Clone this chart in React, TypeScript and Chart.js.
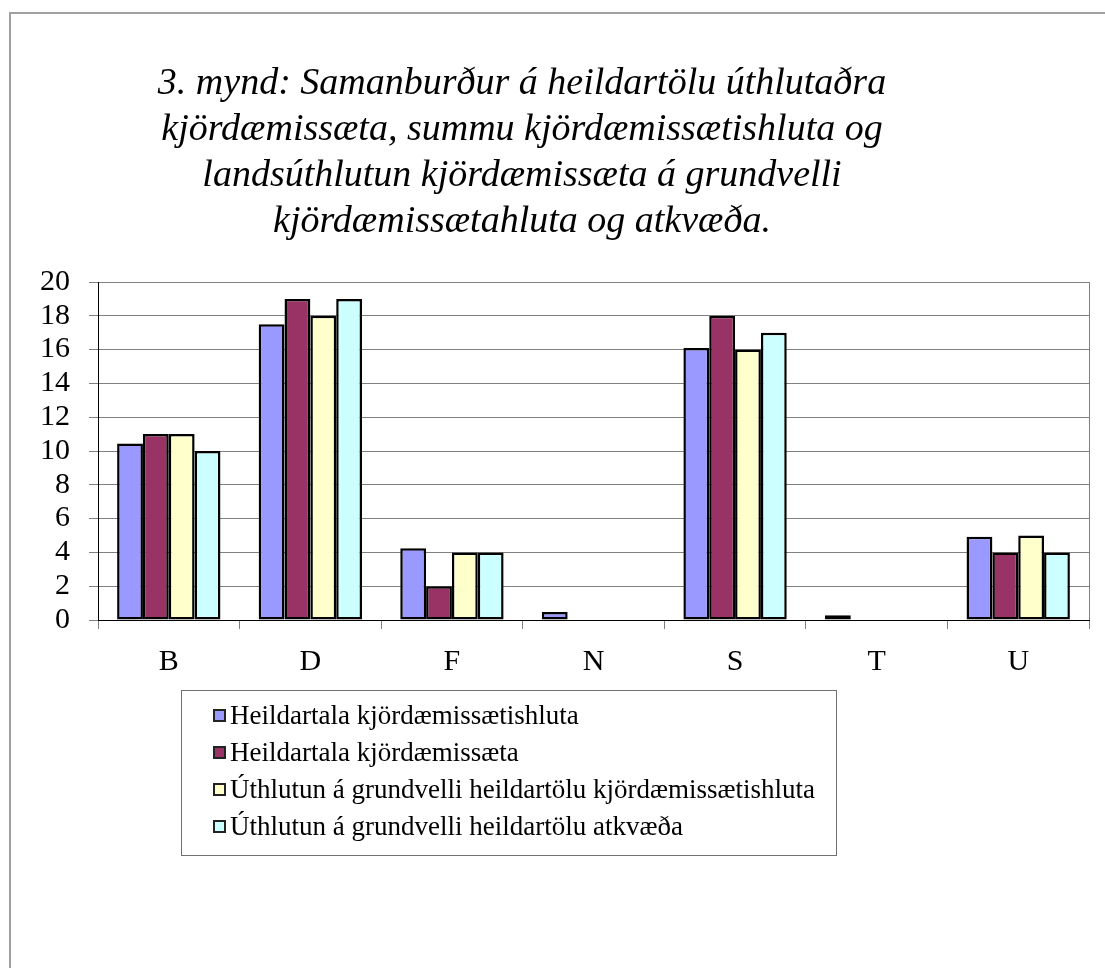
import React, { useEffect, useRef } from "react";
import { Chart, registerables } from "chart.js";

Chart.register(...registerables);

const categories = ["B", "D", "F", "N", "S", "T", "U"];
const seriesNames = [
  "Heildartala kjördæmissætishluta",
  "Heildartala kjördæmissæta",
  "Úthlutun á grundvelli heildartölu kjördæmissætishluta",
  "Úthlutun á grundvelli heildartölu atkvæða",
];
const heildartalaHluta = [10.45, 17.5, 4.25, 0.47, 16.1, 0.28, 4.93];
const heildartalaSaeta = [11, 19, 2, 0, 18, 0, 4];
const uthlutunHluta = [11, 18, 4, 0, 16, 0, 5];
const uthlutunAtkvaeda = [10, 19, 4, 0, 17, 0, 4];
const seriesColors = ["#9999FF", "#993366", "#FFFFCC", "#CCFFFF"];
const titleLines = [
  "3. mynd: Samanburður á heildartölu úthlutaðra",
  "kjördæmissæta, summu kjördæmissætishluta og",
  "landsúthlutun kjördæmissæta á grundvelli",
  "kjördæmissætahluta og atkvæða.",
];

const FONT = "'Liberation Serif', 'Times New Roman', serif";

export default function App() {
  const ref = useRef<HTMLCanvasElement>(null);

  useEffect(() => {
    if (!ref.current) return;
    const values = [heildartalaHluta, heildartalaSaeta, uthlutunHluta, uthlutunAtkvaeda];
    const rightBorder = {
      id: "rightBorder",
      afterDraw(chart: any) {
        const { ctx, chartArea } = chart;
        ctx.save();
        ctx.strokeStyle = "#808080";
        ctx.lineWidth = 1;
        ctx.beginPath();
        ctx.moveTo(Math.round(chartArea.right) + 0.5, chartArea.top);
        ctx.lineTo(Math.round(chartArea.right) + 0.5, chartArea.bottom);
        ctx.stroke();
        ctx.restore();
      },
    };
    const chart = new Chart(ref.current, {
      type: "bar",
      data: {
        labels: categories,
        datasets: values.map((v, i) => ({
          label: seriesNames[i],
          data: v,
          backgroundColor: seriesColors[i],
          borderColor: "#000000",
          borderWidth: 2.5,
          borderSkipped: false,
          categoryPercentage: 0.73,
          barPercentage: 1,
        })),
      },
      options: {
        responsive: false,
        animation: false,
        layout: { padding: { top: 282, right: 16, left: 0, bottom: 0 } },
        plugins: {
          legend: { display: false },
          title: { display: false },
          tooltip: { enabled: false },
        },
        scales: {
          x: {
            offset: true,
            grid: {
              offset: true,
              drawOnChartArea: false,
              drawTicks: true,
              tickLength: 9,
              color: "#808080",
            },
            border: { color: "#000000", width: 1 },
            ticks: {
              color: "#000000",
              font: { family: FONT, size: 30 },
              padding: 15,
              autoSkip: false,
            },
            afterFit(scale: any) {
              scale.height = 80;
            },
          },
          y: {
            min: 0,
            max: 20,
            ticks: {
              stepSize: 2,
              autoSkip: false,
              color: "#000000",
              font: { family: FONT, size: 30 },
              padding: 19,
            },
            grid: {
              color: "#808080",
              tickLength: 9,
              drawTicks: true,
            },
            border: { color: "#000000", width: 1 },
            afterFit(scale: any) {
              scale.width = 98;
            },
          },
        },
      },
      plugins: [rightBorder],
    });
    return () => chart.destroy();
  }, []);

  return (
    <div
      style={{
        position: "absolute",
        left: 0,
        top: 0,
        width: 1105,
        height: 968,
        overflow: "hidden",
        background: "#ffffff",
        fontFamily: FONT,
      }}
    >
      <div
        style={{
          position: "absolute",
          left: 9,
          top: 12,
          width: 1300,
          height: 1100,
          borderTop: "2px solid #a0a0a0",
          borderLeft: "2px solid #a0a0a0",
        }}
      />
      <canvas
        ref={ref}
        width={1105}
        height={700}
        style={{ position: "absolute", left: 0, top: 0, width: 1105, height: 700 }}
      />
      <div
        style={{
          position: "absolute",
          left: 0,
          top: 58,
          width: 1044,
          textAlign: "center",
          fontStyle: "italic",
          fontSize: 38,
          lineHeight: "46px",
          color: "#000",
        }}
      >
        {titleLines.map((t, i) => (
          <div key={i}>{t}</div>
        ))}
      </div>
      <div
        style={{
          position: "absolute",
          left: 181,
          top: 690,
          width: 656,
          height: 166,
          boxSizing: "border-box",
          border: "1px solid #707070",
          paddingTop: 6,
        }}
      >
        {seriesNames.map((n, i) => (
          <div
            key={i}
            style={{
              height: 37,
              display: "flex",
              alignItems: "center",
              fontSize: 27,
              color: "#000",
              whiteSpace: "nowrap",
            }}
          >
            <span
              style={{
                display: "inline-block",
                width: 13,
                height: 13,
                boxSizing: "border-box",
                border: "2px solid #222",
                background: seriesColors[i],
                marginLeft: 31,
                marginRight: 4,
              }}
            />
            <span>{n}</span>
          </div>
        ))}
      </div>
    </div>
  );
}
